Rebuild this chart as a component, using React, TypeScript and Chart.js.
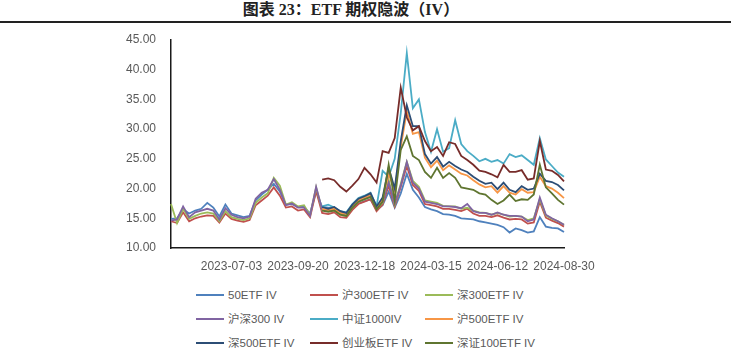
import React, { useEffect, useRef } from 'react';
import { Chart, registerables } from 'chart.js';

Chart.register(...registerables);

const TICK_LABELS = ['2023-07-03', '2023-09-20', '2023-12-18', '2024-03-15', '2024-06-12', '2024-08-30'];
const TICK_INDEX = [10, 21, 32, 43, 54, 65];
const N_POINTS = 66;
const Y_TICKS_MIN = 10;
const Y_TICKS_MAX = 45;

const SERIES_NAMES = ['50ETF IV', '沪300ETF IV', '深300ETF IV', '沪深300 IV', '中证1000IV', '沪500ETF IV', '深500ETF IV', '创业板ETF IV', '深证100ETF IV'];
const SERIES_COLORS = ['#4F81BD', '#C0504D', '#9BBB59', '#8064A2', '#4BACC6', '#F79646', '#2C4D75', '#772C2A', '#5F7530'];

const iv50 = [
  14.9, 15.0, 16.5, 15.8, 16.3, 16.6, 17.6, 16.8, 15.3, 17.3,
  15.8, 15.5, 15.2, 15.4, 18.0, 19.0, 19.8, 20.8, 19.5, 17.3,
  17.4, 16.9, 16.9, 15.8, 19.5, 16.9, 16.8, 16.5, 15.7, 15.5,
  16.6, 17.5, 17.9, 18.2, 16.4, 17.2, 19.5, 16.8, 19.2, 22.5,
  19.8, 18.5, 16.9, 16.5, 16.2, 15.7, 15.6, 15.4, 15.0, 14.9,
  14.8, 14.5, 14.3, 14.1, 13.9, 13.5, 12.6, 13.3, 13.0, 12.6,
  12.8, 15.2, 13.6, 13.4, 13.3, 12.7,
];
const ivSh300 = [
  14.5, 14.2, 16.0, 14.5, 15.0, 15.3, 15.5, 15.4, 14.3, 15.8,
  14.9, 14.6, 14.4, 14.7, 17.2, 18.0, 18.8, 20.2, 18.8, 16.8,
  17.0, 16.3, 16.5, 15.2, 19.6, 15.9, 15.7, 16.0, 15.2, 15.1,
  16.4, 17.4, 17.8, 18.2, 16.2, 17.3, 20.5, 17.0, 20.3, 23.8,
  20.6, 19.6, 17.4, 17.2, 17.0, 16.6, 16.6, 16.4, 16.2, 16.6,
  15.8, 15.4, 15.4, 15.2, 15.5, 15.1, 14.8, 14.9, 14.8, 14.1,
  14.3, 17.8, 15.1, 14.6, 14.2, 13.6,
];
const ivSz300 = [
  17.4, 14.2, 16.6, 14.9, 15.4, 15.8, 16.0, 15.8, 14.5, 16.2,
  15.2, 14.9, 14.7, 15.0, 17.6, 18.5, 19.2, 21.8, 20.5, 17.3,
  17.7, 17.0, 17.2, 15.5, 20.2, 16.4, 16.2, 16.4, 15.6, 15.4,
  16.8, 17.8, 18.2, 18.6, 16.6, 17.6, 21.5, 17.3, 20.8, 24.5,
  21.3, 20.3, 18.0, 17.8, 17.6, 17.1, 17.0, 17.0, 16.6, 16.8,
  16.3, 16.0, 15.9, 15.6, 15.9, 15.6, 15.3, 15.4, 15.3, 14.7,
  15.0, 18.2, 15.5, 14.9, 14.5, 13.9,
];
const ivHs300 = [
  14.6, 14.8, 17.0, 15.2, 16.0, 16.3, 16.6, 16.3, 14.8, 16.7,
  15.6, 15.2, 15.0, 15.3, 18.3, 19.3, 19.8, 21.6, 19.8, 17.2,
  17.5, 16.8, 16.8, 15.4, 20.3, 16.5, 16.3, 16.6, 16.0, 15.8,
  17.0, 18.0, 18.4, 18.8, 16.8, 17.8, 21.0, 17.5, 20.5, 24.5,
  21.0, 20.0, 17.8, 17.6, 17.4, 17.0, 17.0, 16.9, 16.7, 17.4,
  16.2, 15.9, 15.9, 15.6, 16.0, 15.6, 15.4, 15.4, 15.3, 14.5,
  14.8, 18.5, 15.6, 15.0, 14.5, 13.9,
];
const LATE_START_GAP = 25;
const ivZz1000Vals = [
  17.0, 17.3, 16.8, 16.2, 16.0,
  17.4, 18.4, 18.8, 19.3, 17.0, 23.0, 22.0, 25.0, 32.7, 42.8,
  33.5, 35.0, 29.5, 26.2, 30.0, 26.2, 26.8, 31.5, 27.5, 26.3,
  25.5, 24.6, 25.0, 24.5, 24.8, 24.2, 25.8, 25.3, 25.6, 24.8,
  24.0, 28.5, 24.9, 23.8, 22.7, 22.0,
];
const ivSh500Vals = [
  16.6, 16.4, 16.6, 15.9, 15.7,
  17.0, 18.0, 18.5, 18.9, 16.8, 18.2, 22.5, 19.6, 27.0, 33.0,
  29.2, 29.5, 25.2, 23.6, 24.7, 23.1, 23.9, 23.2, 22.5, 22.2,
  21.4, 20.7, 20.2, 20.4, 19.3, 20.4, 19.3, 19.0, 19.9, 19.3,
  19.4, 22.0, 20.4, 20.0, 19.3, 18.4,
];
const ivSz500Vals = [
  16.9, 16.6, 16.9, 16.2, 15.9,
  17.3, 18.3, 18.7, 19.2, 17.0, 18.5, 23.5, 20.0, 28.0, 34.0,
  30.5, 30.5, 25.8, 24.2, 25.3, 23.7, 24.5, 23.8, 23.2, 22.8,
  22.0, 21.3, 20.8, 21.0, 19.9, 21.0, 19.8, 19.4, 20.4, 19.8,
  20.0, 22.5, 21.3, 21.1, 20.6, 19.7,
];
const ivCybVals = [
  21.5, 21.7, 21.4, 20.3, 19.5,
  20.5, 21.6, 23.5, 22.4, 21.0, 26.3, 26.0, 28.5, 37.0, 32.0,
  29.8, 30.5, 28.0, 26.3, 27.0, 25.5, 27.8, 27.5, 25.5, 24.8,
  24.0, 23.0, 22.8, 22.4, 21.9, 24.0, 22.8, 22.8, 23.1, 21.5,
  21.7, 28.0, 23.2, 23.0, 22.3, 21.2,
];
const ivSz100Vals = [
  16.3, 16.1, 16.3, 15.6, 15.4,
  16.8, 17.8, 18.2, 18.6, 16.5, 17.8, 24.0, 18.0, 26.5, 28.8,
  25.5, 24.8, 22.8, 21.8, 23.5, 21.8, 22.6, 21.8, 20.2, 20.0,
  19.8, 19.2, 19.0, 18.1, 17.4, 18.0, 19.0, 17.9, 18.2, 18.1,
  19.0, 24.0, 20.2, 19.2, 18.1, 17.3,
];

const withGap = (vals: number[]) => [...Array(LATE_START_GAP).fill(null), ...vals];
const SERIES_DATA = [
  iv50, ivSh300, ivSz300, ivHs300,
  withGap(ivZz1000Vals), withGap(ivSh500Vals), withGap(ivSz500Vals), withGap(ivCybVals), withGap(ivSz100Vals),
];

const FONT = "'Liberation Sans', 'Noto Sans CJK SC', sans-serif";

export default function App() {
  const ref = useRef<HTMLCanvasElement>(null);

  useEffect(() => {
    const labels = Array.from({ length: N_POINTS }, (_, i) => {
      const k = TICK_INDEX.indexOf(i);
      return k >= 0 ? TICK_LABELS[k] : '';
    });
    const chart = new Chart(ref.current as HTMLCanvasElement, {
      type: 'line',
      data: {
        labels,
        datasets: SERIES_NAMES.map((name, i) => ({
          label: name,
          data: SERIES_DATA[i],
          borderColor: SERIES_COLORS[i],
          backgroundColor: SERIES_COLORS[i],
          borderWidth: 1.8,
          pointRadius: 0,
          pointHoverRadius: 0,
          fill: false,
          tension: 0,
          spanGaps: false,
          order: SERIES_NAMES.length - 1 - i,
        })),
      },
      options: {
        animation: false,
        responsive: false,
        maintainAspectRatio: false,
        events: [],
        layout: { padding: { left: 0, right: 167, top: 40, bottom: 0 } },
        plugins: { legend: { display: false }, tooltip: { enabled: false }, title: { display: false } },
        scales: {
          x: {
            type: 'category',
            offset: false,
            grid: { display: false, drawTicks: false },
            border: { display: true, color: '#1a1a1a', width: 1.5 },
            ticks: {
              autoSkip: false,
              maxRotation: 0,
              minRotation: 0,
              padding: 11,
              color: '#595959',
              font: { family: FONT, size: 12 },
            },
            afterFit: (s: any) => { s.height = 32; },
          },
          y: {
            min: Y_TICKS_MIN,
            max: Y_TICKS_MAX,
            grid: { display: false, drawTicks: false },
            border: { display: true, color: '#1a1a1a', width: 1.5 },
            ticks: {
              stepSize: 5,
              padding: 15,
              color: '#595959',
              font: { family: FONT, size: 12 },
              callback: (v: any) => Number(v).toFixed(2),
            },
            afterFit: (s: any) => { s.width = 171; },
          },
        },
      },
    });
    return () => chart.destroy();
  }, []);

  const legendCols = [196, 310, 425];
  const legendRows = [295, 319, 343];

  return (
    <div style={{ position: 'fixed', left: 0, top: 0, width: 731, height: 357, background: '#fff', overflow: 'hidden' }}>
      <div style={{
        position: 'absolute', left: 0, width: 702, top: 0, height: 20, lineHeight: '20px', textAlign: 'center',
        fontFamily: "'Liberation Serif', 'Noto Sans CJK SC', serif", fontWeight: 'bold', fontSize: 16, color: '#222',
      }}>
        图表 23：ETF 期权隐波（IV）
      </div>
      <div style={{ position: 'absolute', left: 0, top: 21, width: 731, height: 2, background: '#222' }} />
      <canvas ref={ref} width={731} height={280} style={{ position: 'absolute', left: 0, top: 0, width: 731, height: 280 }} />
      {SERIES_NAMES.map((name, i) => {
        const col = i % 3;
        const row = Math.floor(i / 3);
        return (
          <div key={name} style={{ position: 'absolute', left: legendCols[col], top: legendRows[row] - 8, height: 16, display: 'flex', alignItems: 'center', whiteSpace: 'nowrap' }}>
            <div style={{ width: 28, height: 2, background: SERIES_COLORS[i], marginRight: 4, flex: 'none' }} />
            <span style={{ fontFamily: FONT, fontSize: 11.5, color: '#595959', lineHeight: '16px' }}>{name}</span>
          </div>
        );
      })}
    </div>
  );
}
